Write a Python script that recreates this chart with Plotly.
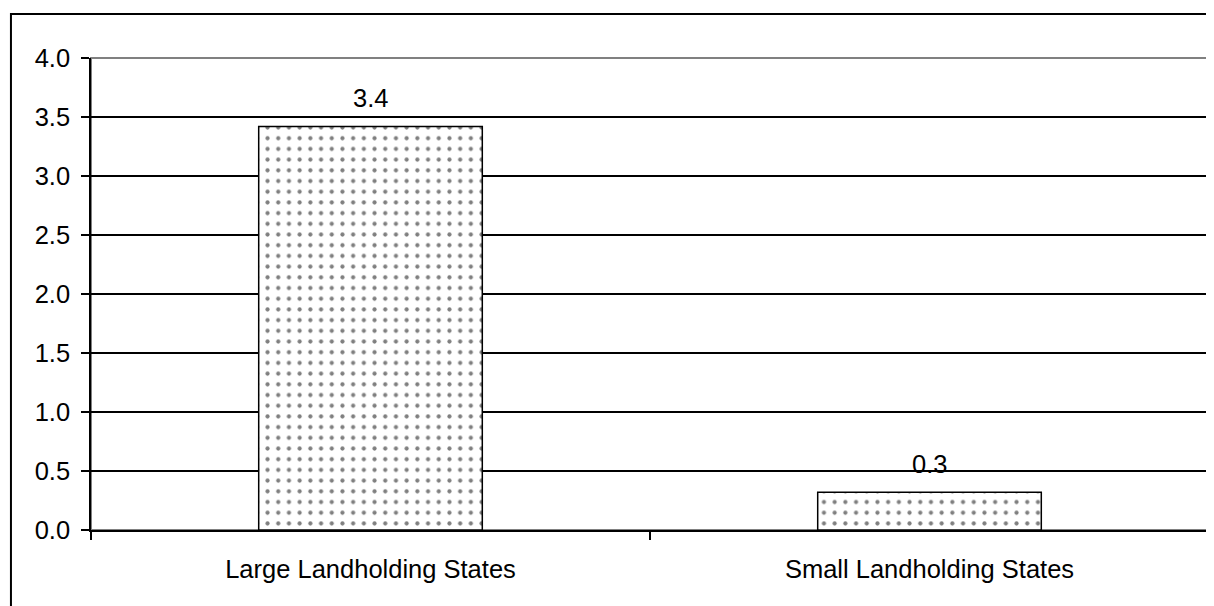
import plotly.graph_objects as go

categories = ["Large Landholding States", "Small Landholding States"]
values = [3.42, 0.32]
value_labels = ["3.4", "0.3"]
y_ticks = [0.0, 0.5, 1.0, 1.5, 2.0, 2.5, 3.0, 3.5, 4.0]
y_tick_labels = ["0.0", "0.5", "1.0", "1.5", "2.0", "2.5", "3.0", "3.5", "4.0"]

FONT = "Liberation Sans, Arial, sans-serif"
FS = 25.5

fig = go.Figure()
fig.add_trace(go.Bar(
    x=categories, y=values, width=0.4,
    marker=dict(
        color="white",
        line=dict(color="black", width=1.5),
        pattern=dict(shape=".", fgcolor="black", bgcolor="white", size=10.7, solidity=0.12),
    ),
    hoverinfo="skip",
))

for c, v, t in zip(categories, values, value_labels):
    fig.add_annotation(x=c, y=v, text=t, showarrow=False, yanchor="bottom", yshift=12,
                       font=dict(family=FONT, size=FS, color="black"))

# plot-area border (gray)
fig.add_shape(type="rect", xref="paper", yref="paper", x0=0, x1=1, y0=0, y1=1,
              line=dict(color="#808080", width=2), layer="below")
# outer frame
fig.add_shape(type="rect", xref="paper", yref="paper", x0=-0.0716, x1=1.01, y0=-0.17, y1=1.0932,
              line=dict(color="black", width=2), layer="above")

# page body has an 8px default margin, so the figure is shrunk and offset accordingly
fig.update_layout(
    width=1206, height=598,
    margin=dict(l=83, r=5, t=50, b=76),
    paper_bgcolor="white", plot_bgcolor="white",
    showlegend=False,
    font=dict(family=FONT, size=FS, color="black"),
)
fig.update_xaxes(
    showline=True, linecolor="black", linewidth=1.5,
    ticks="outside", ticklen=8, tickcolor="black", tickwidth=1.5,
    tickson="boundaries", showgrid=False,
    tickfont=dict(family=FONT, size=FS, color="black"),
    ticklabelstandoff=16,
)
fig.update_yaxes(
    range=[0, 4.0], tickvals=y_ticks, ticktext=y_tick_labels,
    showline=True, linecolor="black", linewidth=1.5,
    ticks="outside", ticklen=8, tickcolor="black", tickwidth=1.5,
    showgrid=True, gridcolor="black", gridwidth=1.5,
    zeroline=False,
    tickfont=dict(family=FONT, size=FS, color="black"),
    ticklabelstandoff=6,
)

fig.write_html("out.html")
